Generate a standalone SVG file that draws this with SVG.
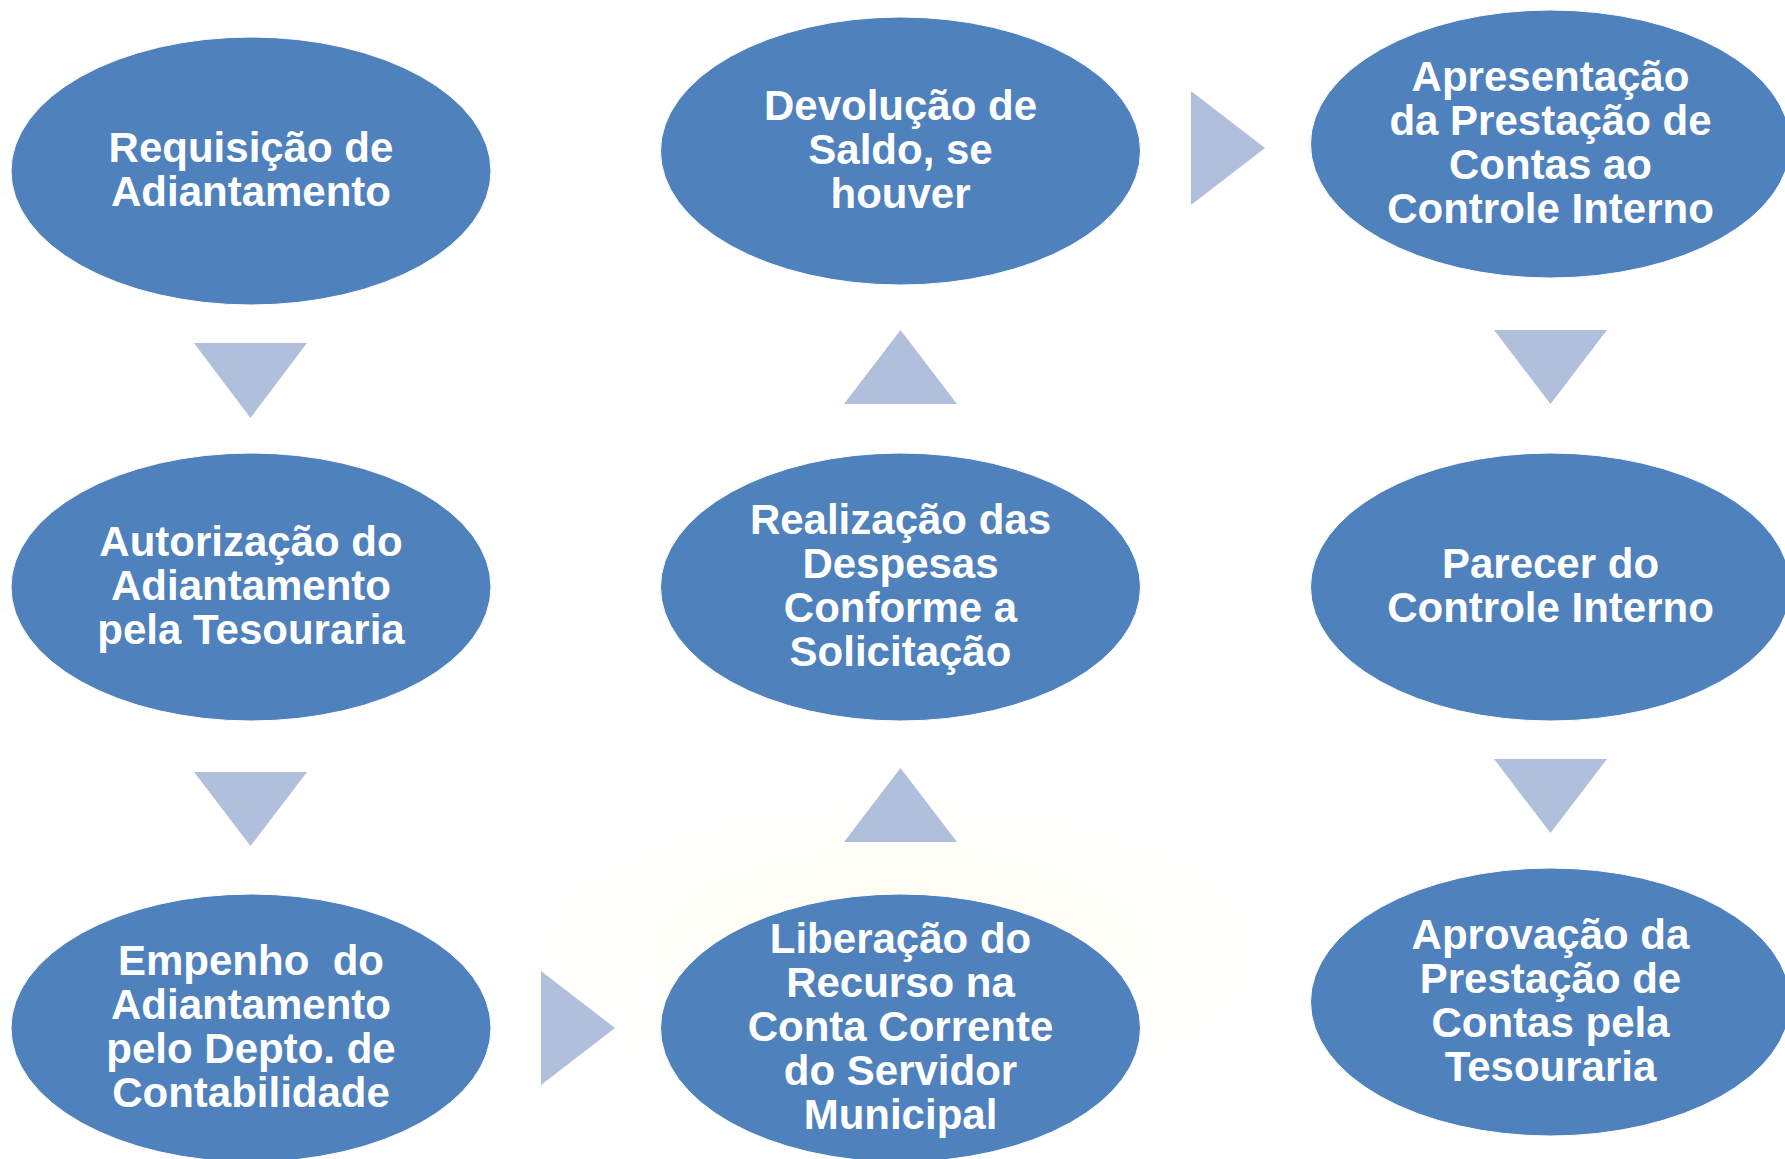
<svg xmlns="http://www.w3.org/2000/svg" width="1785" height="1159" viewBox="0 0 1785 1159">
<defs>
<radialGradient id="glow" cx="0.5" cy="0.6" r="0.6">
<stop offset="0" stop-color="#fffbe0" stop-opacity="0.9"/>
<stop offset="1" stop-color="#ffffff" stop-opacity="0"/>
</radialGradient>
<style>
.node ellipse{fill:#4F81BD;stroke:#ffffff;stroke-width:1}
.node text{fill:#ffffff;font-family:"Liberation Sans",Arial,sans-serif;font-weight:bold;font-size:42px;text-anchor:middle;white-space:pre}
.arrow{fill:#B0C0DC}
</style>
</defs>
<rect width="1785" height="1159" fill="#ffffff"/>
<rect x="540" y="770" width="720" height="303" fill="url(#glow)"/>

<g id="connectors">
<polygon class="arrow" points="194,343 307,343 250.5,418"/>
<polygon class="arrow" points="194,772 307,772 250.5,846"/>
<polygon class="arrow" points="541,971 615,1028 541,1085"/>
<polygon class="arrow" points="844,842 957,842 900.5,768"/>
<polygon class="arrow" points="844,404 957,404 900.5,330"/>
<polygon class="arrow" points="1191,91 1265,148 1191,205"/>
<polygon class="arrow" points="1494,330 1607,330 1550.5,404"/>
<polygon class="arrow" points="1494,759 1607,759 1550.5,833"/>
</g>

<g id="n1" class="node">
<ellipse cx="251" cy="171" rx="240" ry="134"/>
<text x="251" y="162">Requisição de</text>
<text x="251" y="206">Adiantamento</text>
</g>
<g id="n2" class="node">
<ellipse cx="251" cy="587" rx="240" ry="134"/>
<text x="251" y="556">Autorização do</text>
<text x="251" y="600">Adiantamento</text>
<text x="251" y="644">pela Tesouraria</text>
</g>
<g id="n3" class="node">
<ellipse cx="251" cy="1028" rx="240" ry="134"/>
<text x="251" y="975" xml:space="preserve">Empenho  do</text>
<text x="251" y="1019">Adiantamento</text>
<text x="251" y="1063">pelo Depto. de</text>
<text x="251" y="1107">Contabilidade</text>
</g>
<g id="n4" class="node">
<ellipse cx="900.5" cy="1028" rx="240" ry="134"/>
<text x="900.5" y="953">Liberação do</text>
<text x="900.5" y="997">Recurso na</text>
<text x="900.5" y="1041">Conta Corrente</text>
<text x="900.5" y="1085">do Servidor</text>
<text x="900.5" y="1129">Municipal</text>
</g>
<g id="n5" class="node">
<ellipse cx="900.5" cy="587" rx="240" ry="134"/>
<text x="900.5" y="534">Realização das</text>
<text x="900.5" y="578">Despesas</text>
<text x="900.5" y="622">Conforme a</text>
<text x="900.5" y="666">Solicitação</text>
</g>
<g id="n6" class="node">
<ellipse cx="900.5" cy="151" rx="240" ry="134"/>
<text x="900.5" y="120">Devolução de</text>
<text x="900.5" y="164">Saldo, se</text>
<text x="900.5" y="208">houver</text>
</g>
<g id="n7" class="node">
<ellipse cx="1550.5" cy="144" rx="240" ry="134"/>
<text x="1550.5" y="91">Apresentação</text>
<text x="1550.5" y="135">da Prestação de</text>
<text x="1550.5" y="179">Contas ao</text>
<text x="1550.5" y="223">Controle Interno</text>
</g>
<g id="n8" class="node">
<ellipse cx="1550.5" cy="587" rx="240" ry="134"/>
<text x="1550.5" y="578">Parecer do</text>
<text x="1550.5" y="622">Controle Interno</text>
</g>
<g id="n9" class="node">
<ellipse cx="1550.5" cy="1002" rx="240" ry="134"/>
<text x="1550.5" y="949">Aprovação da</text>
<text x="1550.5" y="993">Prestação de</text>
<text x="1550.5" y="1037">Contas pela</text>
<text x="1550.5" y="1081">Tesouraria</text>
</g>
</svg>
